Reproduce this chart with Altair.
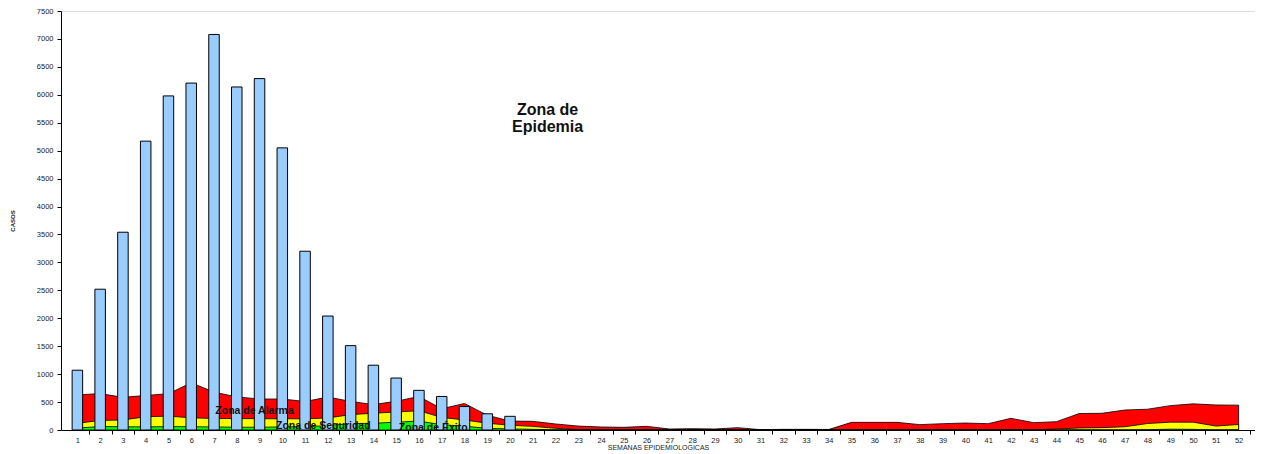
import altair as alt
import pandas as pd

FONT = "Liberation Sans"

# ---- data ----
weeks = list(range(1, 53))
bar_weeks = list(range(1, 21))
casos = [1070, 2520, 3540, 5170, 5980, 6210, 7080, 6140, 6290, 5050,
         3200, 2040, 1510, 1160, 930, 710, 600, 420, 290, 245]

alarma = [628, 652, 585, 618, 650, 845, 678, 592, 555, 555,
          510, 590, 512, 455, 515, 600, 380, 475, 265, 160,
          155, 108, 70, 54, 48, 66, 18, 24, 18, 42,
          6, 12, 12, 10, 137, 137, 137, 96, 113, 125,
          113, 209, 131, 149, 295, 299, 358, 372, 436, 468,
          448, 445]
seguridad = [120, 172, 178, 238, 248, 218, 205, 205, 202, 200,
             200, 215, 275, 300, 322, 345, 225, 180, 120, 85,
             65, 30, 8, 0, 0, 0, 0, 0, 0, 0,
             0, 0, 0, 0, 0, 0, 0, 0, 0, 0,
             0, 0, 0, 18, 36, 42, 58, 116, 140, 140,
             70, 98]
exito = [35, 62, 58, 56, 60, 60, 54, 50, 50, 55,
         60, 78, 115, 120, 140, 160, 95, 68, 30, 20,
         12, 4, 0, 0, 0, 0, 0, 0, 0, 0,
         0, 0, 0, 0, 0, 0, 0, 0, 0, 0,
         0, 0, 0, 0, 0, 0, 0, 5, 15, 12,
         0, 3]

zone_labels = ["Zona de  Alarma", "Zona de  Seguridad", "Zona de Éxito"]
zone_x = [8.78, 11.8, 16.63]
zone_y = [349, 75, 36]

epi_labels = ["Zona de", "Epidemia"]
epi_x = [21.65, 21.65]
epi_y = [5730, 5430]

y_ticks = list(range(0, 7501, 500))

# ---- tables ----
zones = pd.DataFrame({"week": weeks, "alarma": alarma,
                      "seguridad": seguridad, "exito": exito})
bars = pd.DataFrame({"week": bar_weeks, "casos": casos})
zt = pd.DataFrame({"label": zone_labels, "week": zone_x, "value": zone_y})
et = pd.DataFrame({"label": epi_labels, "week": epi_x, "value": epi_y})

xscale = alt.Scale(domain=[0.5, 52.5], nice=False, zero=False)
yscale = alt.Scale(domain=[0, 7500], nice=False)

BAND = 1194 / 52.0

xaxis = alt.Axis(values=weeks, tickOffset=BAND / 2, labelOffset=-BAND / 2,
                 format="d",
                 title="SEMANAS EPIDEMIOLOGICAS", titleFont=FONT,
                 titleFontSize=7, titleFontWeight="normal", titleColor="#222",
                 titlePadding=0, labelFont=FONT, labelFontSize=7.5,
                 labelColor="#222", tickSize=4, tickColor="black",
                 domainColor="black", grid=False, labelPadding=2,
                 labelFlush=False, labelOverlap=False, labelBound=False)
yaxis = alt.Axis(values=y_ticks, format="d", title="CASOS", titleFont=FONT,
                 titleFontSize=6, titleFontWeight="bold", titleColor="#222",
                 titlePadding=21, labelFont=FONT, labelFontSize=7.5,
                 labelColor="#222", tickSize=4, tickColor="black",
                 domainColor="black", grid=False, labelPadding=4,
                 labelOverlap=False)

X = lambda f: alt.X(f, scale=xscale, axis=xaxis)
Y = lambda f: alt.Y(f, scale=yscale, axis=yaxis)

base = alt.Chart(zones)

red = base.mark_area(color="#ff0000", stroke="black", strokeWidth=0.8).encode(
    x=X("week:Q"), y=Y("alarma:Q"))
yellow = base.mark_area(color="#ffff00", stroke="black", strokeWidth=0.8).encode(
    x=X("week:Q"), y=Y("seguridad:Q"))
green = base.mark_area(color="#00ff00", stroke="black", strokeWidth=0.8).encode(
    x=X("week:Q"), y=Y("exito:Q"))
barl = alt.Chart(bars).mark_bar(size=10.5, color="#99ccff", stroke="black",
                                strokeWidth=1).encode(
    x=X("week:Q"), y=Y("casos:Q"))
ztext = alt.Chart(zt).mark_text(font=FONT, fontSize=10.5, fontWeight="bold",
                                color="#111", align="center",
                                baseline="middle").encode(
    x=X("week:Q"), y=Y("value:Q"), text="label:N")
etext = alt.Chart(et).mark_text(font=FONT, fontSize=16, fontWeight="bold",
                                color="#111", align="center",
                                baseline="middle").encode(
    x=X("week:Q"), y=Y("value:Q"), text="label:N")

chart = alt.layer(red, yellow, green, barl, ztext, etext).properties(
    width=1194, height=419,
    autosize=alt.AutoSizeParams(type="none"),
    padding={"left": 53, "top": 3, "right": 0, "bottom": 22},
).configure_view(stroke="black", strokeWidth=2).configure(background="white")

chart.save("out.html", embed_options={"renderer": "svg", "actions": False})
